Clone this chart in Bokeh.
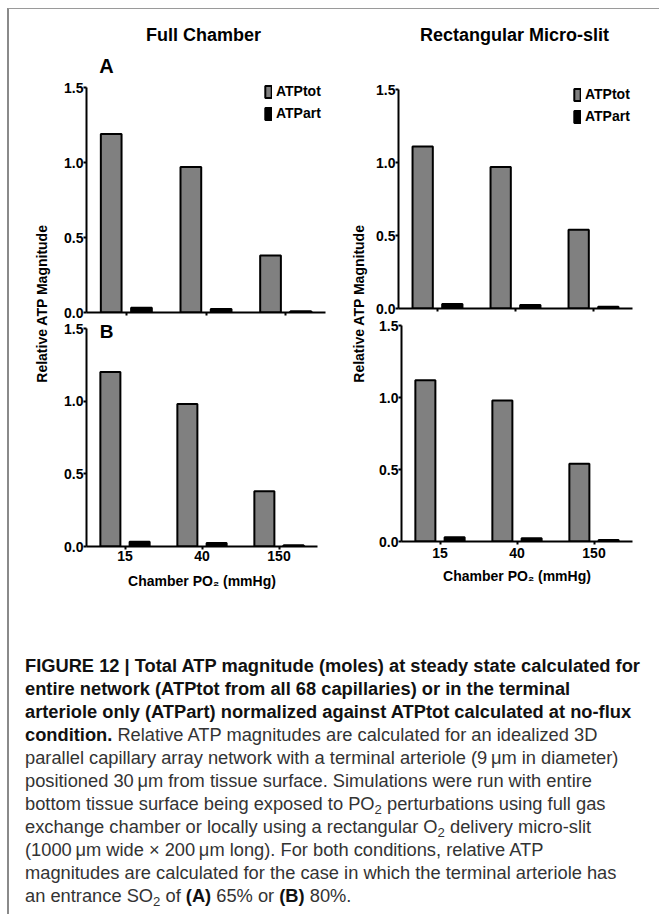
from math import pi
from bokeh.plotting import figure
from bokeh.models import (ColumnDataSource, Range1d, FactorRange, FixedTicker,
                          PrintfTickFormatter, Label, Legend, LegendItem, Div, Spacer)
from bokeh.transform import dodge
from bokeh.layouts import row, column
from bokeh.embed import file_html
from bokeh.resources import INLINE

# ---------------- data ----------------
categories = ["15", "40", "150"]          # Chamber PO2 (mmHg)
series_names = ["ATPtot", "ATPart"]
a_full_tot = [1.19, 0.97, 0.38]
a_full_art = [0.032, 0.024, 0.009]
a_slit_tot = [1.11, 0.97, 0.54]
a_slit_art = [0.030, 0.024, 0.012]
b_full_tot = [1.20, 0.98, 0.38]
b_full_art = [0.033, 0.024, 0.009]
b_slit_tot = [1.12, 0.98, 0.54]
b_slit_art = [0.030, 0.022, 0.010]
y_ticks = [0.0, 0.5, 1.0, 1.5]
y_max = 1.5
x_title = "Chamber PO\u2082 (mmHg)"
y_title = "Relative ATP Magnitude"
col_titles = ["Full Chamber", "Rectangular Micro-slit"]
panel_letters = ["A", "B"]

FONT = "Liberation Sans"
GRAY = "#808080"


def panel(tot, art, width, height, bl, br, bt, bb, axis_px, show_x,
          legend_loc=None, tick_standoff=1, label_standoff=8):
    fh = height - bt - bb                      # frame height in px
    y_end = y_max * fh / axis_px               # frame reaches above the axis top
    src = ColumnDataSource(dict(cat=categories, tot=tot, art=art))
    p = figure(width=width, height=height,
               x_range=FactorRange(*categories, range_padding=0),
               y_range=Range1d(0, y_end),
               output_backend="svg", toolbar_location=None,
               min_border_left=bl, min_border_right=br,
               min_border_top=bt, min_border_bottom=bb, frame_align=False)
    r1 = p.vbar(x=dodge("cat", -0.19, range=p.x_range), top="tot", width=0.26,
                source=src, fill_color=GRAY, line_color="black", line_width=2)
    r2 = p.vbar(x=dodge("cat", 0.19, range=p.x_range), top="art", width=0.26,
                source=src, fill_color="black", line_color="black", line_width=2)
    p.outline_line_color = None
    p.xgrid.visible = False
    p.ygrid.visible = False
    for ax in (p.xaxis[0], p.yaxis[0]):
        ax.axis_line_width = 2
        ax.axis_line_color = "black"
        ax.major_tick_line_width = 2
        ax.major_tick_line_color = "black"
        ax.major_tick_out = 3
        ax.major_tick_in = 0
        ax.minor_tick_out = 0
        ax.minor_tick_in = 0
        ax.major_label_text_font = FONT
        ax.major_label_text_font_style = "bold"
        ax.major_label_text_font_size = "14px"
        ax.major_label_text_color = "black"
    p.yaxis.ticker = FixedTicker(ticks=y_ticks)
    p.yaxis.formatter = PrintfTickFormatter(format="%.1f")
    p.yaxis.major_label_standoff = 0
    p.yaxis.bounds = (0, y_max)
    if show_x:
        p.xaxis.major_label_standoff = tick_standoff
        p.xaxis.axis_label = x_title
        p.xaxis.axis_label_standoff = label_standoff
        p.xaxis.axis_label_text_font = FONT
        p.xaxis.axis_label_text_font_style = "bold"
        p.xaxis.axis_label_text_font_size = "14px"
        p.xaxis.axis_label_text_color = "black"
    else:
        p.xaxis.major_label_text_color = None
        p.xaxis.major_label_text_alpha = 0
        p.xaxis.major_label_standoff = 0
    if legend_loc is not None:
        lg = Legend(items=[LegendItem(label=series_names[0], renderers=[r1]),
                           LegendItem(label=series_names[1], renderers=[r2])],
                    location=legend_loc, orientation="vertical",
                    background_fill_alpha=0, border_line_color=None,
                    padding=0, margin=0, spacing=6,
                    glyph_width=8, glyph_height=15, label_height=15,
                    label_standoff=4, label_text_font=FONT,
                    label_text_font_style="bold", label_text_font_size="14px",
                    label_text_color="black")
        p.add_layout(lg)
    return p


def txt(p, x, y, text, size, angle=0):
    p.add_layout(Label(x=x, y=y, x_units="screen", y_units="screen", text=text,
                       angle=angle, text_font=FONT, text_font_style="bold",
                       text_font_size=size, text_color="black",
                       text_align="center", text_baseline="middle"))


# top-left: frame x 86..325, axis 1.5 at y=87, 0 at y=312 (page px)
tl = panel(a_full_tot, a_full_art, 275, 311, 31, 5, 9, 8, 225, False, legend_loc=(178, 191))
txt(tl, 117, 278, col_titles[0], "18px")
txt(tl, 20, 247, panel_letters[0], "20px")

# bottom-left: frame x 86..317, 1.5 at 328, 0 at 546
bl = panel(b_full_tot, b_full_art, 275, 280, 31, 13, 0, 54, 218, True,
           tick_standoff=1, label_standoff=9)
txt(bl, 20, 215, panel_letters[1], "19px")

# top-right: frame x 398..632, 1.5 at 89, 0 at 308
tr = panel(a_slit_tot, a_slit_art, 287, 307, 28, 25, 9, 8, 219, False, legend_loc=(175, 184))
txt(tr, 116, 274, col_titles[1], "18px")

# bottom-right: frame x 401..632, 1.5 at 325, 0 at 541
br = panel(b_slit_tot, b_slit_art, 287, 284, 31, 25, 9, 59, 216, True,
           tick_standoff=3, label_standoff=7)


def label_fig(width, height, cx, cy):
    p = figure(width=width, height=height, x_range=Range1d(0, width),
               y_range=Range1d(0, height), output_backend="svg",
               toolbar_location=None, min_border=0, frame_align=False,
               x_axis_type=None, y_axis_type=None)
    p.outline_line_color = None
    txt(p, cx, cy, y_title, "14px", angle=pi / 2)
    return p


ylab_l = label_fig(46, 591, 32, 297)
ylab_r = label_fig(40, 591, 28, 297)

SUB = '<span style="font-size:0.72em;line-height:0;vertical-align:-0.28em">2</span>'
MU = "&thinsp;\u03bcm"
caption_lines = [
    "<b>FIGURE 12 | Total ATP magnitude (moles) at steady state calculated for</b>",
    "<b>entire network (ATPtot from all 68 capillaries) or in the terminal</b>",
    "<b>arteriole only (ATPart) normalized against ATPtot calculated at no-flux</b>",
    "<b>condition.</b> Relative ATP magnitudes are calculated for an idealized 3D",
    "parallel capillary array network with a terminal arteriole (9" + MU + " in diameter)",
    "positioned 30" + MU + " from tissue surface. Simulations were run with entire",
    "bottom tissue surface being exposed to PO" + SUB + " perturbations using full gas",
    "exchange chamber or locally using a rectangular O" + SUB + " delivery micro-slit",
    "(1000" + MU + " wide \u00d7 200" + MU + " long). For both conditions, relative ATP",
    "magnitudes are calculated for the case in which the terminal arteriole has",
    "an entrance SO" + SUB + " of <b>(A)</b> 65% or <b>(B)</b> 80%.",
]
caption_lines = [l.replace("<b>", '<b style="color:#111">') for l in caption_lines]
caption_html = ('<div style="margin-top:49px;margin-left:11px;font-family:\'Liberation Sans\';'
                'font-size:18.3px;line-height:23px;white-space:nowrap;color:#333">'
                + "<br>".join(caption_lines) + "</div>")
cap = Div(text=caption_html, width=648, height=312)

charts = row(row(ylab_l, column(tl, bl)), row(ylab_r, column(tr, br)))
inner = column(charts, cap,
               styles={"border-top": "1px solid #9a9a9a", "border-left": "2px solid #8a8a8a"})
layout = column(Spacer(width=657, height=8), row(Spacer(width=7, height=10), inner))

open("out.html", "w").write(file_html(layout, INLINE))
